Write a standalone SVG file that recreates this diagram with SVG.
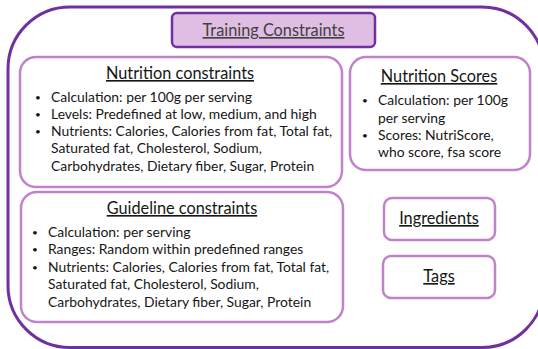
<svg xmlns="http://www.w3.org/2000/svg" width="538" height="349" viewBox="0 0 538 349">
<style>
.outer{fill:#fff;stroke:#7030A0;stroke-width:3}
.box{fill:#fff;stroke:#C083C9;stroke-width:2.5}
.title{fill:#E0BDE3;stroke:#7030A0;stroke-width:2.5}
text{font-family:Lato,"Open Sans",sans-serif;fill:#161616}
.h{font-size:16.3px;text-anchor:middle;text-decoration:underline}
.t{font-size:13.9px}
.b{font-size:10px}
.ht{fill:#404040}
</style>
<rect class="outer" x="8" y="7" width="536" height="340.5" rx="62"/>
<g id="training-constraints">
<rect class="title" x="172" y="13" width="203" height="34" rx="5"/>
<text class="h ht" x="273.5" y="36">Training Constraints</text>
</g>
<g id="nutrition-constraints">
<rect class="box" x="20" y="57" width="322" height="130" rx="16"/>
<text class="h" x="180" y="79">Nutrition constraints</text>
<text class="b" x="35" y="101">•</text><text class="t" x="51" y="102">Calculation: per 100g per serving</text>
<text class="b" x="35" y="118">•</text><text class="t" x="51" y="119">Levels: Predefined at low, medium, and high</text>
<text class="b" x="35" y="135">•</text><text class="t" x="51" y="136">Nutrients: Calories, Calories from fat, Total fat,</text>
<text class="t" x="51" y="153">Saturated fat, Cholesterol, Sodium,</text>
<text class="t" x="51" y="171">Carbohydrates, Dietary fiber, Sugar, Protein</text>
</g>
<g id="nutrition-scores">
<rect class="box" x="350" y="57" width="180" height="113" rx="16"/>
<text class="h" x="439" y="82">Nutrition Scores</text>
<text class="b" x="362" y="104">•</text><text class="t" x="378" y="105">Calculation: per 100g</text>
<text class="t" x="378" y="123">per serving</text>
<text class="b" x="362" y="139">•</text><text class="t" x="378" y="140">Scores: NutriScore,</text>
<text class="t" x="378" y="157">who score, fsa score</text>
</g>
<g id="guideline-constraints">
<rect class="box" x="21" y="192" width="322" height="130" rx="16"/>
<text class="h" x="182" y="214">Guideline constraints</text>
<text class="b" x="32" y="236">•</text><text class="t" x="48" y="237">Calculation: per serving</text>
<text class="b" x="32" y="253">•</text><text class="t" x="48" y="254">Ranges: Random within predefined ranges</text>
<text class="b" x="32" y="271">•</text><text class="t" x="48" y="272">Nutrients: Calories, Calories from fat, Total fat,</text>
<text class="t" x="48" y="289">Saturated fat, Cholesterol, Sodium,</text>
<text class="t" x="48" y="307">Carbohydrates, Dietary fiber, Sugar, Protein</text>
</g>
<g id="ingredients">
<rect class="box" x="384" y="198" width="111" height="42" rx="8"/>
<text class="h" x="439" y="224">Ingredients</text>
</g>
<g id="tags">
<rect class="box" x="383" y="256" width="112" height="42" rx="8"/>
<text class="h" x="439" y="282">Tags</text>
</g>
<g id="connectors"/>
</svg>
